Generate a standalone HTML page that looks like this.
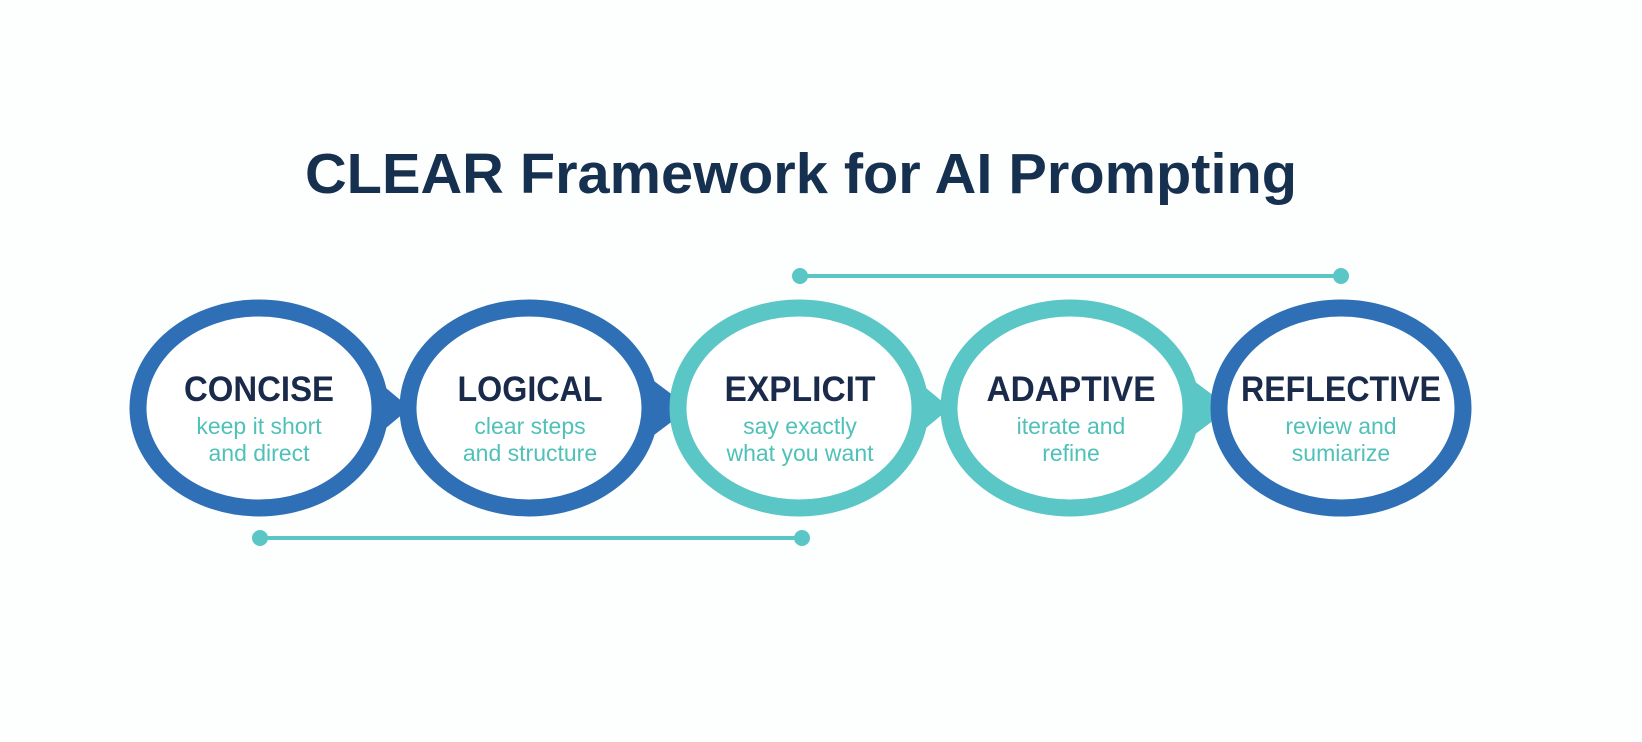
<!DOCTYPE html>
<html><head><meta charset="utf-8"><style>
html,body{margin:0;padding:0;background:#fff;}
svg{display:block}
</style></head><body>
<svg width="1642" height="742" viewBox="0 0 1642 742" xmlns="http://www.w3.org/2000/svg">
<rect width="1642" height="742" fill="#fdfefe"/>
<text x="801" y="193" text-anchor="middle" font-family="Liberation Sans, sans-serif" font-weight="bold" font-size="57" fill="#16304f" textLength="992" lengthAdjust="spacingAndGlyphs">CLEAR Framework for AI Prompting</text>
<!-- lines -->
<line x1="800" y1="276" x2="1341" y2="276" stroke="#5bc6c6" stroke-width="4"/>
<circle cx="800" cy="276" r="8" fill="#5bc6c6"/><circle cx="1341" cy="276" r="8" fill="#5bc6c6"/>
<line x1="260" y1="538" x2="802" y2="538" stroke="#5bc6c6" stroke-width="4"/>
<circle cx="260" cy="538" r="8" fill="#5bc6c6"/><circle cx="802" cy="538" r="8" fill="#5bc6c6"/>
<!-- arrows -->
<polygon points="380,383 410,408 380,433" fill="#2e6fb6"/>
<polygon points="650,378 690,408 650,438" fill="#2e6fb6"/>
<polygon points="920,383 950,408 920,433" fill="#5bc6c6"/>
<polygon points="1190,378 1230,408 1190,438" fill="#5bc6c6"/>
<!-- circles -->
<g fill="#fff" stroke-width="17">
<ellipse cx="259" cy="408" rx="121" ry="100" stroke="#2e6fb6"/>
<ellipse cx="529" cy="408" rx="121" ry="100" stroke="#2e6fb6"/>
<ellipse cx="799" cy="408" rx="121" ry="100" stroke="#5bc6c6"/>
<ellipse cx="1070" cy="408" rx="121" ry="100" stroke="#5bc6c6"/>
<ellipse cx="1341" cy="408" rx="122" ry="100" stroke="#2e6fb6"/>
</g>
<g font-family="Liberation Sans, sans-serif" text-anchor="middle">
<g font-weight="bold" font-size="35" fill="#1a2a4a">
<text x="259" y="401" textLength="150" lengthAdjust="spacingAndGlyphs">CONCISE</text>
<text x="530" y="401" textLength="145" lengthAdjust="spacingAndGlyphs">LOGICAL</text>
<text x="800" y="401" textLength="151" lengthAdjust="spacingAndGlyphs">EXPLICIT</text>
<text x="1071" y="401" textLength="169" lengthAdjust="spacingAndGlyphs">ADAPTIVE</text>
<text x="1341" y="401" textLength="200" lengthAdjust="spacingAndGlyphs">REFLECTIVE</text>
</g>
<g font-size="23" fill="#4fc1b8">
<text x="259" y="434">keep it short</text><text x="259" y="461">and direct</text>
<text x="530" y="434">clear steps</text><text x="530" y="461">and structure</text>
<text x="800" y="434">say exactly</text><text x="800" y="461">what you want</text>
<text x="1071" y="434">iterate and</text><text x="1071" y="461">refine</text>
<text x="1341" y="434">review and</text><text x="1341" y="461">sumiarize</text>
</g>
</g>
</svg>
</body></html>
